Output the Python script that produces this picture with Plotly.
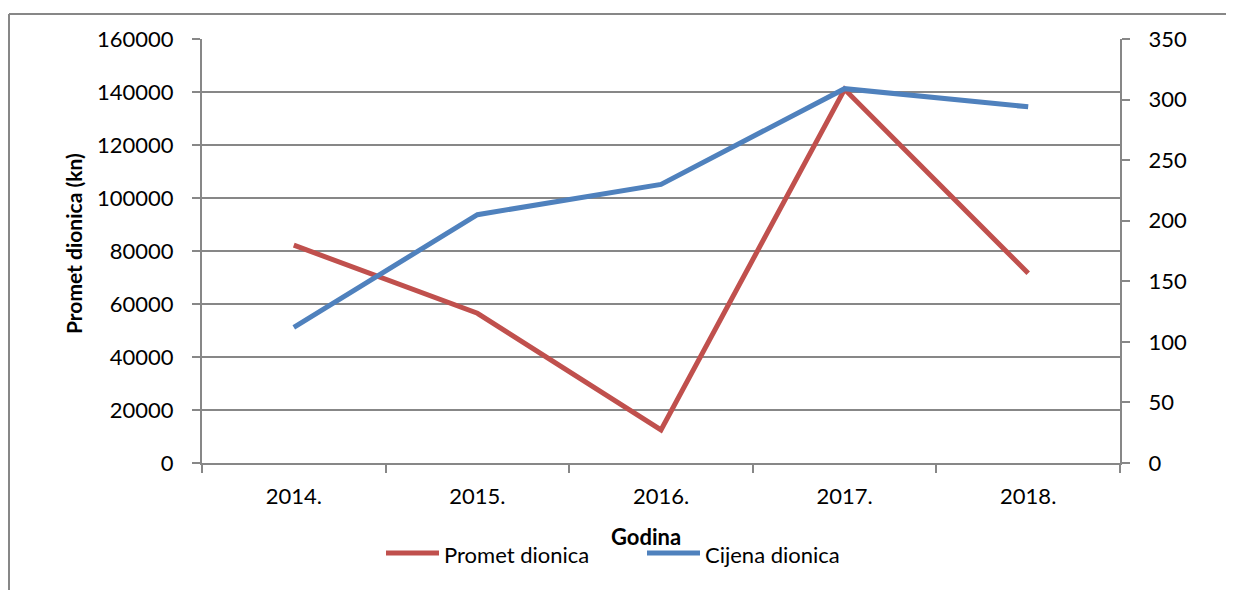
import plotly.graph_objects as go

# Podaci
godine = ['2014.', '2015.', '2016.', '2017.', '2018.']
promet_dionica = [82200, 56500, 12500, 141000, 71600]
cijena_dionica = [112, 205, 230, 309, 294]

crvena = '#C0504D'
plava = '#4F81BD'
siva = '#878787'
font_name = 'Lato'

# stranica ima 8 px margine, pa je figura malo manja
W, H = 1226, 582
L, R, T, B = 194, 114, 31, 127
PW, PH = W - L - R, H - T - B


def px(x):
    return (x - 8 - L) / PW


def py(y):
    return (H - B - (y - 8)) / PH


fig = go.Figure()

fig.add_trace(go.Scatter(
    x=godine, y=promet_dionica, name='Promet dionica', mode='lines',
    line=dict(color=crvena, width=5)
))
fig.add_trace(go.Scatter(
    x=godine, y=cijena_dionica, name='Cijena dionica', mode='lines',
    line=dict(color=plava, width=5), yaxis='y2'
))

fig.update_layout(
    width=W, height=H,
    margin=dict(l=L, r=R, t=T, b=B, autoexpand=False),
    paper_bgcolor='white', plot_bgcolor='white',
    font=dict(family=font_name, size=22, color='black'),
    showlegend=False,
    xaxis=dict(
        type='category', range=[-0.5, 4.5],
        showline=True, linecolor=siva, linewidth=2,
        ticks='outside', tickson='boundaries', ticklen=8, tickcolor=siva, tickwidth=2,
        ticklabelstandoff=13,
        showgrid=False, zeroline=False,
    ),
    yaxis=dict(
        range=[0, 160000], dtick=20000, tickformat='d',
        showline=True, linecolor=siva, linewidth=2,
        ticks='outside', ticklen=8, tickcolor=siva, tickwidth=2,
        ticklabelstandoff=14,
        showgrid=True, gridcolor=siva, gridwidth=2, zeroline=False,
    ),
    yaxis2=dict(
        range=[0, 350], dtick=50, overlaying='y', side='right',
        showline=True, linecolor=siva, linewidth=2,
        ticks='outside', ticklen=8, tickcolor=siva, tickwidth=2,
        ticklabelstandoff=14,
        showgrid=False, zeroline=False,
    ),
)

# naslovi osi
fig.add_annotation(text='<b>Promet dionica (kn)</b>', xref='paper', yref='paper',
                   x=px(73), y=py(244), xanchor='center', yanchor='middle',
                   textangle=-90, showarrow=False, font=dict(size=21))
fig.add_annotation(text='<b>Godina</b>', xref='paper', yref='paper',
                   x=px(646), y=py(536), xanchor='center', yanchor='middle',
                   showarrow=False, font=dict(size=22))

# legenda
for x0, x1, boja, naziv in [(386, 439, crvena, 'Promet dionica'),
                            (647, 700, plava, 'Cijena dionica')]:
    fig.add_shape(type='line', xref='paper', yref='paper',
                  x0=px(x0), x1=px(x1), y0=py(553), y1=py(553),
                  line=dict(color=boja, width=5))
    fig.add_annotation(text=naziv, xref='paper', yref='paper',
                       x=px(x1 + 3), y=py(554), xanchor='left', yanchor='middle',
                       showarrow=False, font=dict(size=22))

# okvir grafikona
fig.add_shape(type='line', xref='paper', yref='paper',
              x0=px(9), x1=px(1300), y0=py(14), y1=py(14),
              line=dict(color=siva, width=2))
fig.add_shape(type='line', xref='paper', yref='paper',
              x0=px(9), x1=px(9), y0=py(14), y1=py(700),
              line=dict(color=siva, width=2))

fig.write_html('out.html')
